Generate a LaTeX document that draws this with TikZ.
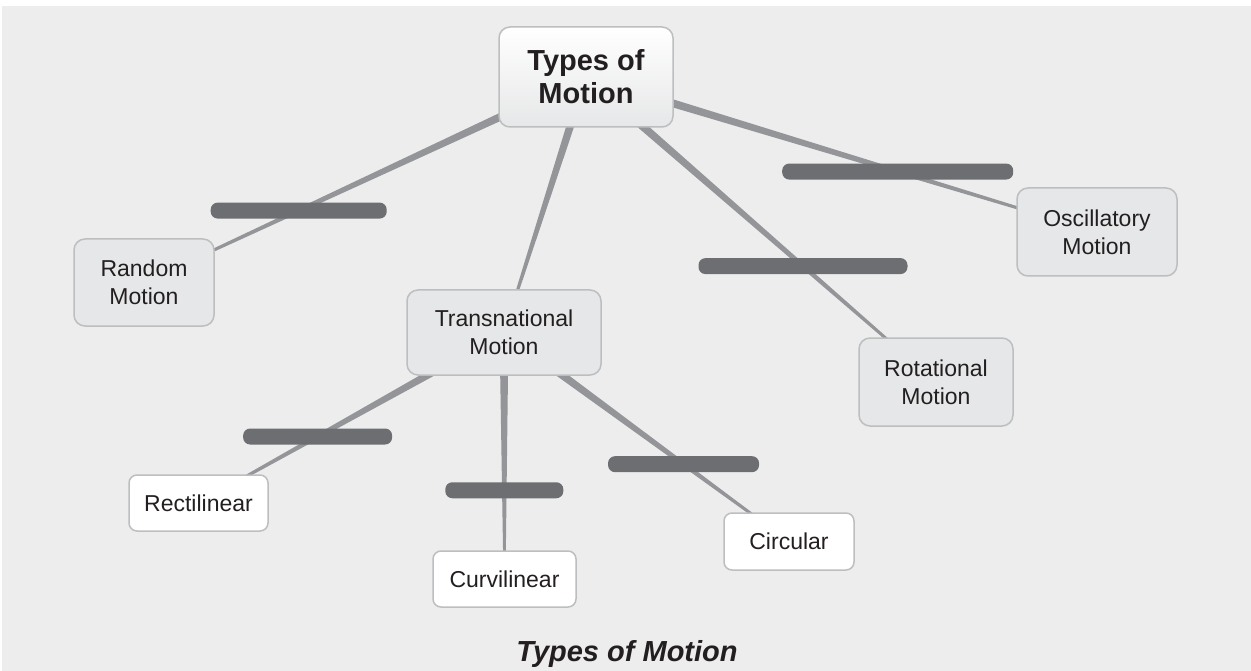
\documentclass[tikz,border=0pt]{standalone}
\usepackage{fontspec}
\setmainfont{Liberation Sans}
\usetikzlibrary{calc,backgrounds}

\definecolor{paper}{HTML}{EDEDED}
\definecolor{conceptfill}{HTML}{E6E7E8}
\definecolor{conceptline}{HTML}{BCBEC0}
\definecolor{linkgray}{HTML}{939598}
\definecolor{bargray}{HTML}{6D6E71}
\definecolor{ink}{HTML}{231F20}

\tikzset{
  concept/.style={draw=conceptline, line width=1.5pt, rounded corners=11pt,
    fill=conceptfill, align=center, inner sep=0pt, text=ink,
    font=\fontsize{23}{28}\selectfont},
  leaf/.style={concept, fill=white, rounded corners=8pt},
  topic/.style={concept, top color=white, middle color=white,
    bottom color=conceptfill, font=\bfseries\fontsize{29}{33}\selectfont},
  blank/.style={fill=bargray, rounded corners=7pt, minimum height=16pt,
    inner sep=0pt},
  link/.style={fill=linkgray},
}

% tapered link, thick at the parent, thin at the child
\newcommand{\branch}[2]{%
  \fill[link]
    ($(#1)!4.5pt!90:(#2)$) -- ($(#2)!1pt!-90:(#1)$)
    -- ($(#2)!1pt!90:(#1)$) -- ($(#1)!4.5pt!-90:(#2)$) -- cycle;}

\begin{document}
\begin{tikzpicture}[x=1pt,y=-1pt]
\useasboundingbox (0,0) rectangle (1251,671);

\node[topic, minimum width=174pt, minimum height=100pt]
  (types) at (586,77) {Types of\\Motion};

\node[concept, minimum width=140pt, minimum height=87pt]
  (random) at (144,282.5) {Random\\Motion};
\node[concept, minimum width=194pt, minimum height=85pt]
  (trans) at (504,332.5) {Transnational\\Motion};
\node[concept, minimum width=160pt, minimum height=88pt]
  (osc) at (1097,232) {Oscillatory\\Motion};
\node[concept, minimum width=154pt, minimum height=88pt]
  (rot) at (936,382) {Rotational\\Motion};

\node[leaf, minimum width=139pt, minimum height=56pt]
  (recti) at (198.5,503) {Rectilinear};
\node[leaf, minimum width=143pt, minimum height=56pt]
  (curvi) at (504.5,579) {Curvilinear};
\node[leaf, minimum width=130pt, minimum height=57pt]
  (circ) at (789,541.5) {Circular};

\node[blank, minimum width=176pt] (brandom) at ($(types)!.65!(random)$) {};
\node[blank, minimum width=231pt] (bosc) at ($(types)!.61!(osc)$) {};
\node[blank, minimum width=209pt] (brot) at ($(types)!.62!(rot)$) {};
\node[blank, minimum width=149pt] (brecti) at ($(trans)!.61!(recti)$) {};
\node[blank, minimum width=118pt] (bcurvi) at ($(trans)!.64!(curvi)$) {};
\node[blank, minimum width=151pt] (bcirc) at ($(trans)!.63!(circ)$) {};

\node[text=ink, anchor=base, font=\bfseries\itshape\fontsize{29}{33}\selectfont]
  (caption) at (627,661) {Types of Motion};

\begin{scope}[on background layer]
\fill[white] (0,0) rectangle (1251,671);
\fill[paper] (2,6) rectangle (1251,671);
\branch{types}{random}
\branch{types}{trans}
\branch{types}{rot}
\branch{types}{osc}
\branch{trans}{recti}
\branch{trans}{curvi}
\branch{trans}{circ}
\end{scope}
\end{tikzpicture}
\end{document}
